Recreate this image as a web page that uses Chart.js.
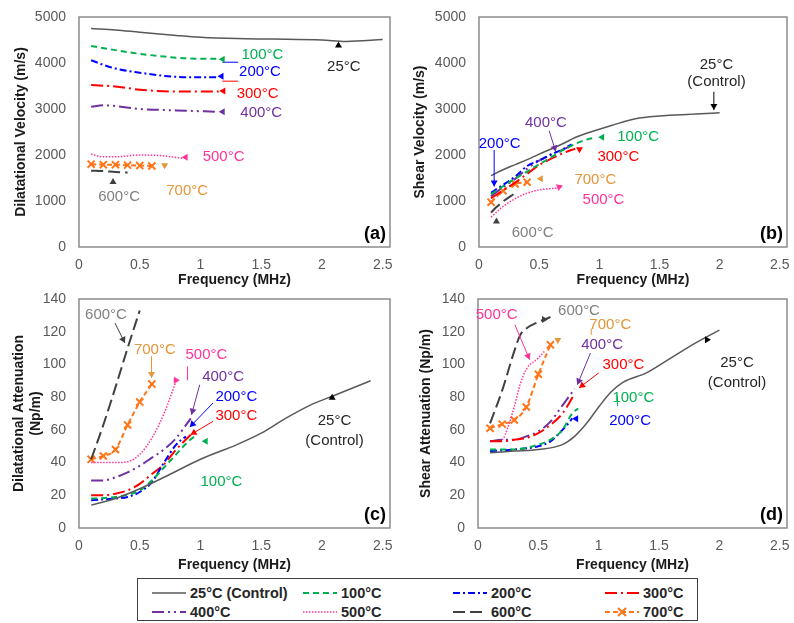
<!DOCTYPE html>
<html>
<head>
<meta charset="utf-8">
<script src="https://cdn.jsdelivr.net/npm/chart.js@4.4.0/dist/chart.umd.min.js"></script>
<style>
  body { margin: 0; background: #fff; width: 794px; height: 623px; position: relative; overflow: hidden;
         font-family: "Liberation Sans", Arial, sans-serif; }
  canvas { position: absolute; }
  #legend { position: absolute; left: 137px; top: 578px; width: 561px; height: 43px;
            border: 1.5px solid #404040; box-sizing: border-box; }
  .item { position: absolute; height: 18px; display: flex; align-items: center; font-weight: bold;
          font-size: 14.5px; color: #262626; white-space: nowrap; }
  .item svg { margin-right: 4px; }
</style>
</head>
<body>
<canvas id="ca" width="397" height="290" style="left:0;top:0"></canvas>
<canvas id="cb" width="394" height="290" style="left:400px;top:0"></canvas>
<canvas id="cc" width="397" height="285" style="left:0;top:290px"></canvas>
<canvas id="cd" width="394" height="285" style="left:400px;top:290px"></canvas>
<div id="legend"></div>
<script>
// series: [frequency MHz, value]
const X_TICKS = [0, 0.5, 1, 1.5, 2, 2.5];

// (a) dilatational velocity, m/s
const A25 = [[0.1,4750],[0.3,4720],[0.5,4670],[0.8,4600],[1.0,4560],[1.3,4530],[1.6,4520],[2.0,4500],[2.2,4470],[2.5,4510]];
const A100 = [[0.1,4370],[0.3,4280],[0.5,4200],[0.7,4140],[0.9,4100],[1.15,4090]];
const A200 = [[0.1,4060],[0.2,3960],[0.3,3880],[0.5,3790],[0.7,3720],[0.9,3690],[1.15,3690]];
const A300 = [[0.1,3520],[0.3,3490],[0.5,3420],[0.8,3380],[1.15,3380]];
const A400 = [[0.1,3050],[0.2,3080],[0.5,3000],[0.8,2970],[1.15,2940]];
const A500 = [[0.1,2020],[0.2,1960],[0.3,1960],[0.5,2000],[0.7,1980],[0.85,1930]];
const A600 = [[0.1,1660],[0.2,1650],[0.3,1630],[0.4,1620]];
const A700 = [[0.1,1800],[0.2,1790],[0.3,1790],[0.4,1780],[0.5,1770],[0.6,1760]];

// (b) shear velocity, m/s
const B25 = [[0.1,1550],[0.2,1680],[0.3,1790],[0.4,1900],[0.5,2020],[0.6,2130],[0.7,2250],[0.8,2380],[0.9,2480],[1.0,2560],[1.1,2640],[1.3,2790],[1.5,2850],[1.8,2890],[2.0,2920]];
const B100 = [[0.1,1150],[0.2,1320],[0.3,1490],[0.4,1640],[0.5,1800],[0.6,1950],[0.7,2110],[0.8,2240],[0.9,2340],[0.97,2380]];
const B200 = [[0.1,1180],[0.2,1350],[0.3,1530],[0.4,1760],[0.5,1880],[0.6,2010],[0.7,2130],[0.77,2230]];
const B300 = [[0.1,1060],[0.2,1230],[0.3,1400],[0.4,1590],[0.5,1780],[0.6,1920],[0.7,2040],[0.8,2140]];
const B400 = [[0.1,1100],[0.2,1300],[0.3,1480],[0.4,1700],[0.5,1880],[0.6,2020],[0.7,2120],[0.75,2180]];
const B500 = [[0.1,650],[0.2,880],[0.3,1050],[0.4,1170],[0.5,1240],[0.6,1270],[0.65,1280]];
const B600 = [[0.1,750],[0.15,880],[0.2,990],[0.3,1170]];
const B700 = [[0.1,975],[0.2,1220],[0.3,1370],[0.4,1410]];

// (c) dilatational attenuation, Np/m
const C25 = [[0.1,14],[0.3,18],[0.5,24],[0.7,31],[1.0,42],[1.3,51],[1.5,58],[1.7,67],[1.9,75],[2.1,81],[2.4,90]];
const C100 = [[0.1,18],[0.3,19],[0.5,23],[0.6,29],[0.7,37],[0.8,45],[0.9,53],[0.97,57]];
const C200 = [[0.1,17],[0.3,18],[0.4,19],[0.5,22],[0.6,28],[0.7,40],[0.8,51],[0.88,56]];
const C300 = [[0.1,20],[0.2,20],[0.3,21],[0.4,23],[0.5,27],[0.6,33],[0.7,39],[0.8,48],[0.92,57]];
const C400 = [[0.1,29],[0.2,29],[0.3,31],[0.4,34],[0.5,38],[0.6,43],[0.7,48],[0.8,55],[0.92,67]];
const C500 = [[0.1,40],[0.2,40],[0.3,40],[0.4,40.5],[0.5,45],[0.6,55],[0.7,70],[0.8,90]];
const C600 = [[0.1,42],[0.2,63],[0.3,86],[0.4,110],[0.5,133]];
const C700 = [[0.1,42],[0.2,44],[0.3,48],[0.4,63],[0.5,77],[0.6,88]];

// (d) shear attenuation, Np/m
const D25 = [[0.1,46],[0.3,47],[0.5,48],[0.7,51],[0.8,56],[0.9,64],[1.0,74],[1.1,83],[1.2,89],[1.4,95],[1.6,104],[1.8,113],[2.0,121]];
const D100 = [[0.1,48],[0.3,48],[0.5,51],[0.6,54],[0.7,60],[0.78,70],[0.83,73]];
const D200 = [[0.1,47],[0.3,48],[0.5,50],[0.6,53],[0.7,60],[0.76,65],[0.78,67]];
const D300 = [[0.1,53],[0.2,53],[0.3,54],[0.4,55],[0.5,58],[0.6,63],[0.7,70],[0.8,82]];
const D400 = [[0.1,53],[0.2,54],[0.3,54],[0.4,56],[0.5,59],[0.6,65],[0.7,75],[0.8,85]];
const D500 = [[0.1,53],[0.2,54],[0.25,62],[0.3,74],[0.35,88],[0.4,97],[0.5,104],[0.55,108]];
const D600 = [[0.1,64],[0.2,84],[0.3,108],[0.35,118],[0.4,122],[0.5,126],[0.6,129]];
const D700 = [[0.1,61],[0.2,63.5],[0.3,66],[0.4,74],[0.5,94],[0.6,112]];

const GREEN = "#00B050", BLUE = "#0000FF", RED = "#FF0000", PURPLE = "#7030A0";
const PINK = "#FF3399", GRAYT = "#7F7F7F", ORANGET = "#E5953A", DARK = "#262626";

const STYLES = [
  { label: "25°C (Control)", color: "#595959", dash: [], width: 1.5 },
  { label: "100°C", color: GREEN, dash: [6, 4], width: 2 },
  { label: "200°C", color: BLUE, dash: [7, 3, 2, 3], width: 2 },
  { label: "300°C", color: RED, dash: [12, 4, 2, 4], width: 2 },
  { label: "400°C", color: PURPLE, dash: [12, 4, 2, 4, 2, 4], width: 2 },
  { label: "500°C", color: PINK, dash: [1.5, 1.5], width: 1.5 },
  { label: "600°C", color: "#404040", dash: [12, 5], width: 2 },
  { label: "700°C", color: "#FF7518", dash: [5, 3], width: 2, marker: true },
];

// callout labels: [text, x, y, colour] in data units
const NOTES_A = [["100°C",1.51,4170,GREEN],["200°C",1.49,3810,BLUE],["300°C",1.47,3320,RED],["400°C",1.50,2920,PURPLE],
  ["500°C",1.19,1965,PINK],["600°C",0.33,1100,GRAYT],["700°C",0.89,1230,ORANGET],["25°C",2.18,3916,DARK]];
const ARROWS_A = [[1.18,4017,1.31,4017,BLUE,false],[1.18,3605,1.31,3605,RED,false]];
const HEADS_A = [[1.15,4082,GREEN,180],[1.14,3714,BLUE,180],[1.155,3389,RED,180],[1.15,2941,PURPLE,180],
  [0.845,1951,PINK,180],[0.28,1500,"#404040",-90],[0.705,1690,ORANGET,90],[2.136,4470,"#000",-90]];

const NOTES_B = [["25°C",1.974,3952,DARK],["(Control)",1.974,3591,DARK],["400°C",0.556,2702,PURPLE],["200°C",0.172,2240,BLUE],
  ["100°C",1.323,2399,GREEN],["300°C",1.158,1965,RED],["700°C",0.967,1460,ORANGET],["500°C",1.035,1026,PINK],["600°C",0.446,303,GRAYT]];
const ARROWS_B = [[1.952,3374,1.952,2977,"#000",true],[0.583,2529,0.638,2074,PURPLE,true],[0.126,2110,0.126,1315,BLUE,true]];
const HEADS_B = [[0.99,2384,GREEN,180],[0.835,2040,RED,90],[0.48,1481,ORANGET,180],[0.66,1220,PINK,100],[0.145,640,"#404040",-90]];

const NOTES_C = [["600°C",0.222,130.4,GRAYT],["700°C",0.624,109,ORANGET],["500°C",1.049,106,PINK],["400°C",1.186,92.7,PURPLE],
  ["200°C",1.295,80,BLUE],["300°C",1.295,68.3,RED],["100°C",1.172,28.5,GREEN],["25°C",2.103,65.2,DARK],["(Control)",2.103,53,DARK]];
const ARROWS_C = [[0.296,125.3,0.378,113.1,"#404040",true],[0.597,105,0.597,91.7,ORANGET,true],[0.893,98.8,0.893,90.3,PINK,false],
  [0.994,87.6,0.926,69.3,PURPLE,true],[1.103,76.4,0.912,61.7,BLUE,true],[1.103,65.2,0.918,57,RED,true]];
const HEADS_C = [[0.83,90.3,PINK,0],[1.01,53,GREEN,180],[2.084,82,"#000",-90]];

const NOTES_D = [["500°C",0.155,130.4,PINK],["600°C",0.837,132.5,GRAYT],["700°C",1.096,124.3,ORANGET],["400°C",1.028,112,PURPLE],
  ["300°C",1.205,99.9,RED],["100°C",1.287,79.5,GREEN],["200°C",1.26,65.2,BLUE],["25°C",2.146,100.9,DARK],["(Control)",2.146,88.6,DARK]];
const ARROWS_D = [[0.305,124.3,0.428,102.9,PINK,true],[0.932,107,0.823,87.6,PURPLE,true],[1.0,94.8,0.837,85.6,RED,true],
  [0.938,122,0.938,118,ORANGET,false],[1.156,80.5,1.156,74.4,GREEN,false]];
const HEADS_D = [[0.58,127.4,"#404040",0],[0.69,116.2,ORANGET,-30],[0.78,66.8,BLUE,180],[1.93,115.1,"#000",0]];

const FONT = '"Liberation Sans", Arial, sans-serif';

function tri(ctx, x, y, ang, c) {
  ctx.save();
  ctx.translate(x, y);
  ctx.rotate(ang);
  ctx.fillStyle = c;
  ctx.beginPath();
  ctx.moveTo(0, 0);
  ctx.lineTo(-6, -3.5);
  ctx.lineTo(-6, 3.5);
  ctx.closePath();
  ctx.fill();
  ctx.restore();
}

const decor = {
  id: "decor",
  afterDatasetsDraw(chart, args, o) {
    const { ctx, chartArea: a } = chart;
    const px = v => chart.scales.x.getPixelForValue(v);
    const py = v => chart.scales.y.getPixelForValue(v);
    ctx.save();
    ctx.setLineDash([]);
    ctx.strokeStyle = "#8c8c8c";
    ctx.lineWidth = 1.5;
    ctx.strokeRect(a.left, a.top, a.width, a.height);
    o.arrows.forEach(([x1, y1, x2, y2, c, head]) => {
      const X1 = px(x1), Y1 = py(y1), X2 = px(x2), Y2 = py(y2);
      ctx.strokeStyle = c;
      ctx.lineWidth = 1;
      ctx.beginPath();
      ctx.moveTo(X1, Y1);
      ctx.lineTo(X2, Y2);
      ctx.stroke();
      if (head) tri(ctx, X2, Y2, Math.atan2(Y2 - Y1, X2 - X1), c);
    });
    o.heads.forEach(([hx, hy, c, deg]) => tri(ctx, px(hx), py(hy), deg * Math.PI / 180, c));
    ctx.font = "15px " + FONT;
    ctx.textAlign = "center";
    ctx.textBaseline = "middle";
    o.notes.forEach(([t, nx, ny, c]) => {
      ctx.fillStyle = c;
      ctx.fillText(t, px(nx), py(ny));
    });
    ctx.font = "bold 18px " + FONT;
    ctx.textAlign = "right";
    ctx.fillStyle = "#000";
    ctx.fillText(o.letter, a.right - 4, a.bottom - 13);
    ctx.restore();
  },
};

const PANELS = [
  { id: "ca", series: [A25, A100, A200, A300, A400, A500, A600, A700], yMax: 5000, yStep: 1000,
    yTitle: "Dilatational Velocity (m/s)", yTitlePad: 13, yW: 79, xH: 43,
    pad: { top: 17, right: 7, bottom: 0, left: 0 }, letter: "(a)", notes: NOTES_A, arrows: ARROWS_A, heads: HEADS_A },
  { id: "cb", series: [B25, B100, B200, B300, B400, B500, B600, B700], yMax: 5000, yStep: 1000,
    yTitle: "Shear Velocity (m/s)", yTitlePad: 12, yW: 79, xH: 43,
    pad: { top: 17, right: 4, bottom: 0, left: 0 }, letter: "(b)", notes: NOTES_B, arrows: ARROWS_B, heads: HEADS_B },
  { id: "cc", series: [C25, C100, C200, C300, C400, C500, C600, C700], yMax: 140, yStep: 20,
    yTitle: ["Dilatational Attenuation", "(Np/m)"], yTitlePad: 11, yW: 79, xH: 47,
    pad: { top: 9, right: 7, bottom: 0, left: 0 }, letter: "(c)", notes: NOTES_C, arrows: ARROWS_C, heads: HEADS_C },
  { id: "cd", series: [D25, D100, D200, D300, D400, D500, D600, D700], yMax: 140, yStep: 20,
    yTitle: "Shear Attenuation (Np/m)", yTitlePad: 18, yW: 78, xH: 47,
    pad: { top: 9, right: 5, bottom: 0, left: 0 }, letter: "(d)", notes: NOTES_D, arrows: ARROWS_D, heads: HEADS_D },
];

PANELS.forEach(p => {
  const datasets = p.series.map((pts, i) => {
    const s = STYLES[i];
    return {
      label: s.label,
      data: pts.map(([x, y]) => ({ x, y })),
      borderColor: s.color,
      backgroundColor: s.color,
      borderDash: s.dash,
      borderWidth: s.width,
      pointStyle: "crossRot",
      pointRadius: s.marker ? 5 : 0,
      pointBorderWidth: 2,
      cubicInterpolationMode: "monotone",
      fill: false,
    };
  });
  new Chart(document.getElementById(p.id), {
    type: "line",
    data: { datasets },
    plugins: [decor],
    options: {
      responsive: false,
      animation: false,
      layout: { padding: p.pad },
      plugins: {
        legend: { display: false },
        tooltip: { enabled: false },
        decor: { letter: p.letter, notes: p.notes, arrows: p.arrows, heads: p.heads },
      },
      scales: {
        x: {
          type: "linear",
          min: 0,
          max: 2.56,
          afterBuildTicks: s => { s.ticks = X_TICKS.map(v => ({ value: v })); },
          afterFit: s => { s.height = p.xH; s.paddingLeft = 0; s.paddingRight = 0; },
          grid: { display: false, drawTicks: false },
          border: { display: false },
          ticks: { padding: 10, color: "#595959", font: { size: 14, family: FONT }, callback: v => v },
          title: { display: true, text: "Frequency (MHz)", color: "#1a1a1a",
                   font: { size: 14, weight: "bold", family: FONT }, padding: { top: 0, bottom: 1 } },
        },
        y: {
          min: 0,
          max: p.yMax,
          ticks: { stepSize: p.yStep, padding: 13, color: "#595959", font: { size: 14, family: FONT }, callback: v => String(v) },
          afterFit: s => { s.width = p.yW; s.paddingTop = 0; s.paddingBottom = 0; },
          grid: { display: false, drawTicks: false },
          border: { display: false },
          title: { display: true, text: p.yTitle, color: "#1a1a1a",
                   font: { size: 14, weight: "bold", family: FONT }, padding: { top: p.yTitlePad, bottom: 0 } },
        },
      },
    },
  });
});

// legend box under the panels
const LEG_X = [14, 165, 315, 467];
const LEG_Y = [5, 24];
const legend = document.getElementById("legend");
STYLES.forEach((s, i) => {
  const div = document.createElement("div");
  div.className = "item";
  div.style.left = LEG_X[i % 4] + "px";
  div.style.top = LEG_Y[Math.floor(i / 4)] + "px";
  const dash = s.dash.length ? ` stroke-dasharray="${s.dash.join(",")}"` : "";
  const mark = s.marker
    ? `<path d="M13 5 L21 13 M21 5 L13 13" stroke="${s.color}" stroke-width="2"/>` : "";
  div.innerHTML = `<svg width="34" height="18"><line x1="0" y1="9" x2="34" y2="9" stroke="${s.color}" stroke-width="${s.width}"${dash}/>${mark}</svg>${s.label}`;
  legend.appendChild(div);
});
</script>
</body>
</html>
